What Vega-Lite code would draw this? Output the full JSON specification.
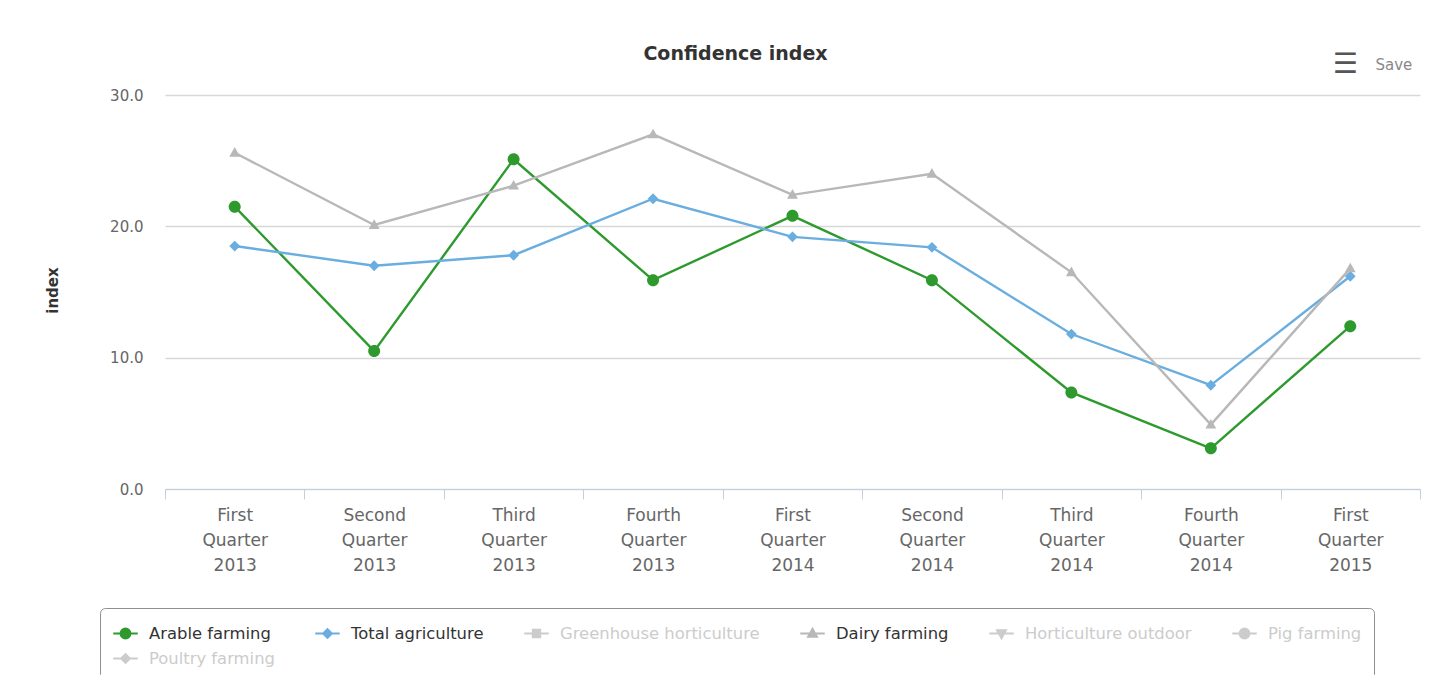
{
  "$schema": "https://vega.github.io/schema/vega-lite/v6.json",
  "width": 1255,
  "height": 394,
  "autosize": {"type": "none"},
  "padding": {"left": 165, "top": 95, "right": 18, "bottom": 186},
  "background": "white",
  "title": {"text": "Confidence index", "fontSize": 19, "font": "DejaVu Sans", "fontWeight": "bold", "color": "#333333", "anchor": "middle", "dx": -57, "offset": -22, "baseline": "middle"},
  "config": {"view": {"stroke": null}, "font": "DejaVu Sans"},
  "data": {"values": [
    {"quarter": "First Quarter 2013", "series": "Arable farming", "value": 21.5},
    {"quarter": "Second Quarter 2013", "series": "Arable farming", "value": 10.5},
    {"quarter": "Third Quarter 2013", "series": "Arable farming", "value": 25.1},
    {"quarter": "Fourth Quarter 2013", "series": "Arable farming", "value": 15.9},
    {"quarter": "First Quarter 2014", "series": "Arable farming", "value": 20.8},
    {"quarter": "Second Quarter 2014", "series": "Arable farming", "value": 15.9},
    {"quarter": "Third Quarter 2014", "series": "Arable farming", "value": 7.35},
    {"quarter": "Fourth Quarter 2014", "series": "Arable farming", "value": 3.1},
    {"quarter": "First Quarter 2015", "series": "Arable farming", "value": 12.4},
    {"quarter": "First Quarter 2013", "series": "Total agriculture", "value": 18.5},
    {"quarter": "Second Quarter 2013", "series": "Total agriculture", "value": 17.0},
    {"quarter": "Third Quarter 2013", "series": "Total agriculture", "value": 17.8},
    {"quarter": "Fourth Quarter 2013", "series": "Total agriculture", "value": 22.1},
    {"quarter": "First Quarter 2014", "series": "Total agriculture", "value": 19.2},
    {"quarter": "Second Quarter 2014", "series": "Total agriculture", "value": 18.4},
    {"quarter": "Third Quarter 2014", "series": "Total agriculture", "value": 11.8},
    {"quarter": "Fourth Quarter 2014", "series": "Total agriculture", "value": 7.9},
    {"quarter": "First Quarter 2015", "series": "Total agriculture", "value": 16.2},
    {"quarter": "First Quarter 2013", "series": "Dairy farming", "value": 25.6},
    {"quarter": "Second Quarter 2013", "series": "Dairy farming", "value": 20.1},
    {"quarter": "Third Quarter 2013", "series": "Dairy farming", "value": 23.1},
    {"quarter": "Fourth Quarter 2013", "series": "Dairy farming", "value": 27.0},
    {"quarter": "First Quarter 2014", "series": "Dairy farming", "value": 22.4},
    {"quarter": "Second Quarter 2014", "series": "Dairy farming", "value": 24.0},
    {"quarter": "Third Quarter 2014", "series": "Dairy farming", "value": 16.5},
    {"quarter": "Fourth Quarter 2014", "series": "Dairy farming", "value": 4.9},
    {"quarter": "First Quarter 2015", "series": "Dairy farming", "value": 16.8}
  ]},
  "layer": [
    {
      "mark": {"type": "line", "strokeWidth": 2.4},
      "encoding": {
        "x": {"field": "quarter", "type": "nominal",
          "sort": ["First Quarter 2013", "Second Quarter 2013", "Third Quarter 2013", "Fourth Quarter 2013", "First Quarter 2014", "Second Quarter 2014", "Third Quarter 2014", "Fourth Quarter 2014", "First Quarter 2015"],
          "scale": {"type": "band", "paddingInner": 0, "paddingOuter": 0},
          "axis": {"title": null, "labelExpr": "split(datum.label, ' ')", "labelLineHeight": 25, "labelFontSize": 17, "labelColor": "#666666", "labelAngle": 0, "labelPadding": 8, "tickBand": "extent", "tickColor": "#c0d0e0", "tickSize": 10, "domainColor": "#c0d0e0", "grid": false}},
        "y": {"field": "value", "type": "quantitative",
          "scale": {"domain": [0, 30], "nice": false},
          "axis": {"title": "index", "titleFontSize": 15, "titleFontWeight": "bold", "titleColor": "#333333", "titleX": -105, "titleY": 195, "values": [0, 10, 20, 30], "format": ".1f", "labelFontSize": 15, "labelColor": "#666666", "labelPadding": 22, "ticks": false, "domain": false, "gridColor": "#d8d8d8", "gridWidth": 1.5}},
        "color": {"field": "series", "type": "nominal",
          "scale": {"domain": ["Arable farming", "Total agriculture", "Greenhouse horticulture", "Dairy farming", "Horticulture outdoor", "Pig farming", "Poultry farming"],
                    "range": ["#2e9a2e", "#6aaee0", "#cccccc", "#b8b8b8", "#cccccc", "#cccccc", "#cccccc"]},
          "legend": {"title": null, "orient": "none", "legendX": -65, "legendY": 513, "direction": "horizontal", "columns": 6, "gridAlign": "none", "columnPadding": 36, "rowPadding": 2, "labelFontSize": 16.4, "labelLimit": 400, "labelColor": "#333333", "labelOffset": 10, "symbolSize": 600, "strokeColor": "#909090", "padding": 12, "cornerRadius": 5, "symbolStrokeWidth": 2,
            "encode": {"labels": {"update": {"fill": {"signal": "indexof(['Greenhouse horticulture','Horticulture outdoor','Pig farming','Poultry farming'], datum.value) >= 0 ? '#cccccc' : '#333333'"}}},
                       "symbols": {"update": {"stroke": {"scale": "color", "field": "value"}, "strokeWidth": {"value": 2}, "opacity": {"value": 1}}}}}}
      }
    },
    {
      "mark": {"type": "point", "filled": true, "size": 900, "opacity": 1},
      "encoding": {
        "x": {"field": "quarter", "type": "nominal",
          "sort": ["First Quarter 2013", "Second Quarter 2013", "Third Quarter 2013", "Fourth Quarter 2013", "First Quarter 2014", "Second Quarter 2014", "Third Quarter 2014", "Fourth Quarter 2014", "First Quarter 2015"]},
        "y": {"field": "value", "type": "quantitative"},
        "color": {"field": "series", "type": "nominal",
          "legend": {"title": null, "orient": "none", "legendX": -65, "legendY": 513, "direction": "horizontal", "columns": 6, "gridAlign": "none", "columnPadding": 36, "rowPadding": 2, "labelFontSize": 16.4, "labelLimit": 400, "labelColor": "#333333", "labelOffset": 10, "symbolSize": 600, "strokeColor": "#909090", "padding": 12, "cornerRadius": 5, "symbolStrokeWidth": 2,
            "encode": {"labels": {"update": {"fill": {"signal": "indexof(['Greenhouse horticulture','Horticulture outdoor','Pig farming','Poultry farming'], datum.value) >= 0 ? '#cccccc' : '#333333'"}}},
                       "symbols": {"update": {"stroke": {"scale": "color", "field": "value"}, "strokeWidth": {"value": 2}, "opacity": {"value": 1}}}}}},
        "shape": {"field": "series", "type": "nominal",
          "scale": {"domain": ["Arable farming", "Total agriculture", "Greenhouse horticulture", "Dairy farming", "Horticulture outdoor", "Pig farming", "Poultry farming"],
                    "range": ["M-1,0L1,0M0.4,0A0.4,0.4,0,1,1,-0.4,0A0.4,0.4,0,1,1,0.4,0Z",
                              "M-1,0L1,0M0,-0.36L0.36,0L0,0.36L-0.36,0Z",
                              "M-1,0L1,0M-0.3,-0.3L0.3,-0.3L0.3,0.3L-0.3,0.3Z",
                              "M-1,0L1,0M0,-0.38L0.36,0.26L-0.36,0.26Z",
                              "M-1,0L1,0M0,0.38L0.36,-0.26L-0.36,-0.26Z",
                              "M-1,0L1,0M0.4,0A0.4,0.4,0,1,1,-0.4,0A0.4,0.4,0,1,1,0.4,0Z",
                              "M-1,0L1,0M0,-0.36L0.36,0L0,0.36L-0.36,0Z"]},
          "legend": {"title": null, "orient": "none", "legendX": -65, "legendY": 513, "direction": "horizontal", "columns": 6, "gridAlign": "none", "columnPadding": 36, "rowPadding": 2, "labelFontSize": 16.4, "labelLimit": 400, "labelColor": "#333333", "labelOffset": 10, "symbolSize": 600, "strokeColor": "#909090", "padding": 12, "cornerRadius": 5, "symbolStrokeWidth": 2,
            "encode": {"labels": {"update": {"fill": {"signal": "indexof(['Greenhouse horticulture','Horticulture outdoor','Pig farming','Poultry farming'], datum.value) >= 0 ? '#cccccc' : '#333333'"}}},
                       "symbols": {"update": {"stroke": {"scale": "color", "field": "value"}, "strokeWidth": {"value": 2}, "opacity": {"value": 1}}}}}}
      }
    },
    {
      "data": {"values": [{"label": "Save"}]},
      "mark": {"type": "text", "align": "right", "baseline": "middle", "dx": 62, "dy": -30, "fontSize": 15, "color": "#888888"},
      "encoding": {"x": {"datum": "First Quarter 2015"}, "y": {"datum": 30}, "text": {"field": "label"}}
    },
    {
      "data": {"values": [{"icon": "☰"}]},
      "mark": {"type": "text", "align": "center", "baseline": "middle", "dx": -5, "dy": -30, "fontSize": 28, "color": "#555555"},
      "encoding": {"x": {"datum": "First Quarter 2015"}, "y": {"datum": 30}, "text": {"field": "icon"}}
    }
  ]
}
